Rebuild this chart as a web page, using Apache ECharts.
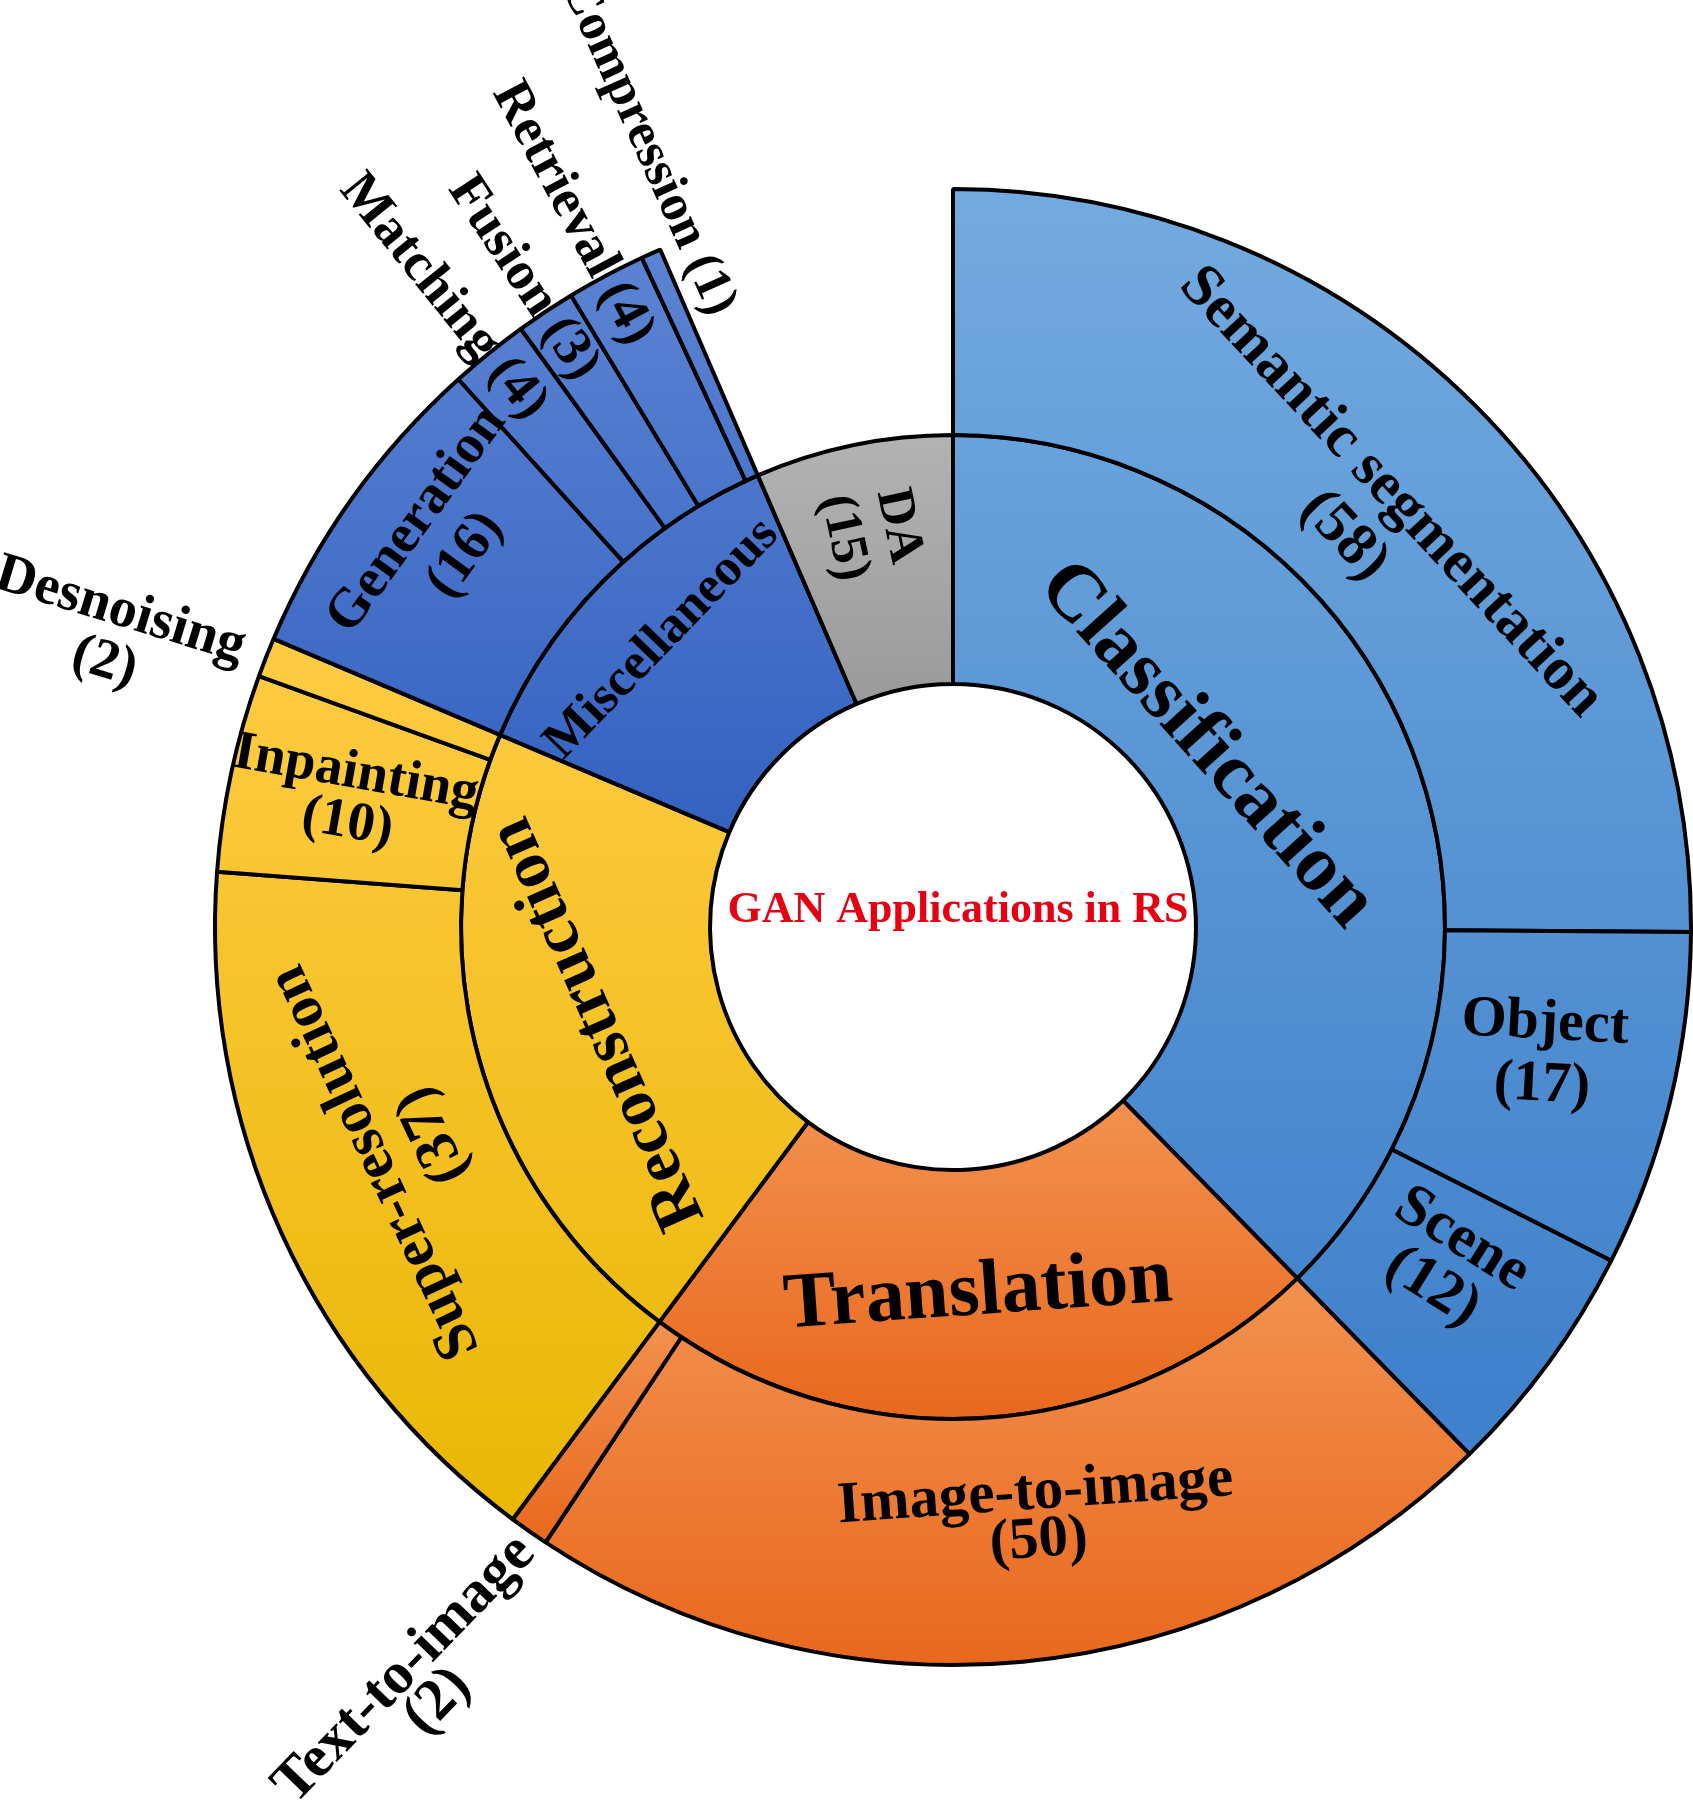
<!DOCTYPE html>
<html lang="en">
<head>
<meta charset="UTF-8">
<title>GAN Applications in RS</title>
<style>
    * { margin: 0; padding: 0; }
    body { background: #fff; }
    #chart { width: 1693px; height: 1808px; }
</style>
</head>
<body>
<div id="chart"></div>
<script src="https://cdn.jsdelivr.net/npm/echarts@6.0.0/dist/echarts.min.js"></script>
<script>
    // data
    var groupNames = ['Classification', 'Translation', 'Reconstruction', 'Miscellaneous', 'DA'];
    var classificationNames = ['Semantic segmentation', 'Object', 'Scene'];
    var classificationValues = [58, 17, 12];
    var translationNames = ['Image-to-image', 'Text-to-image'];
    var translationValues = [50, 2];
    var reconstructionNames = ['Super-resolution', 'Inpainting', 'Desnoising'];
    var reconstructionValues = [37, 10, 2];
    var miscNames = ['Generation', 'Matching', 'Fusion', 'Retrieval', 'Compression'];
    var miscValues = [16, 4, 3, 4, 1];
    var daValue = 15;
    var centerTitle = 'GAN Applications in RS';

    var FONT = '"Liberation Serif", "Times New Roman", serif';

    // gradient per family; "span" = page-wide gradient (pixels), otherwise per shape
    var groupColors = {
        'Classification': { c: ['#73AADF', '#3F81CB'], span: [188, 1400] },
        'Translation': { c: ['#F3914F', '#E8681D'] },
        'Reconstruction': { c: ['#FECB42', '#E8B500'], span: [660, 1600] },
        'Miscellaneous': { c: ['#5C84D3', '#3462C1'], span: [240, 830] },
        'DA': { c: ['#B3B3B3', '#9A9A9A'] }
    };

    // label look per node: font size, rotation, line height, nudge (padding), outside distance
    var labelSetup = {
        'Classification': { size: 80, rotate: -48, padding: [72, 180, 0, 0] },
        'Translation': { size: 79, rotate: 4 },
        'Reconstruction': { size: 68, rotate: 114 },
        'Miscellaneous': { size: 52, rotate: 46, padding: [0, 0, 84, 0] },
        'DA': { size: 52, rotate: -78, lh: 56, padding: [0, 72, 0, 0], wrap: true },
        'Semantic segmentation': { size: 60, rotate: -47, lh: 64, padding: [60, 0, 0, 0], wrap: true },
        'Object': { size: 58, rotate: -3, lh: 62, padding: [0, 16, 34, 0], wrap: true },
        'Scene': { size: 60, rotate: -32, lh: 56, padding: [0, 32, 44, 0], wrap: true },
        'Image-to-image': { size: 59, rotate: 4, lh: 48, padding: [0, 0, 40, 54], wrap: true },
        'Text-to-image': { size: 59, rotate: 46, lh: 46, outside: 12, padding: [56, 0, 0, 0], wrap: true },
        'Super-resolution': { size: 60, rotate: 115, lh: 64, padding: [48, 0, 0, 52], wrap: true },
        'Inpainting': { size: 55, rotate: -10, lh: 50, wrap: true },
        'Desnoising': { size: 56, rotate: -17, lh: 54, outside: 24, padding: [54, 0, 0, 0], wrap: true },
        'Generation': { size: 55, rotate: 54, lh: 60, padding: [0, 0, 56, 40], wrap: true },
        'Matching': { size: 54, outside: -77 },
        'Fusion': { size: 54, outside: -76 },
        'Retrieval': { size: 54, outside: -74 },
        'Compression': { size: 52, outside: -83, padding: [0, 0, 82, 0] }
    };

    function fill(g) {
        var stops = [{ offset: 0, color: g.c[0] }, { offset: 1, color: g.c[1] }];
        if (g.span) {
            return { type: 'linear', x: 0, y: g.span[0], x2: 0, y2: g.span[1], global: true, colorStops: stops };
        }
        return { type: 'linear', x: 0, y: 0, x2: 0, y2: 1, colorStops: stops };
    }

    function makeLabel(name, value) {
        var s = labelSetup[name];
        var text = value == null ? name : name + (s.wrap ? '\n' : ' ') + '(' + value + ')';
        var lines = text.split('\n').map(function (t) { return '{t|' + t + '}'; }).join('\n');
        var label = {
            formatter: lines,
            rotate: s.rotate == null ? 'radial' : s.rotate,
            padding: s.padding || 0,
            rich: {
                t: {
                    fontFamily: FONT,
                    fontWeight: 'bold',
                    fontSize: s.size,
                    lineHeight: s.lh || s.size,
                    color: '#000',
                    align: 'center'
                }
            }
        };
        if (s.outside != null) {
            label.position = 'outside';
            label.distance = s.outside;
        }
        return label;
    }

    function group(name, names, values) {
        return {
            name: name,
            itemStyle: { color: fill(groupColors[name]) },
            label: makeLabel(name),
            children: names.map(function (n, i) {
                return {
                    name: n,
                    value: values[i],
                    itemStyle: { color: fill(groupColors[name]) },
                    label: makeLabel(n, values[i])
                };
            })
        };
    }

    var data = [
        group(groupNames[0], classificationNames, classificationValues),
        group(groupNames[1], translationNames, translationValues),
        group(groupNames[2], reconstructionNames, reconstructionValues),
        group(groupNames[3], miscNames, miscValues),
        {
            name: groupNames[4],
            value: daValue,
            itemStyle: { color: fill(groupColors.DA) },
            label: makeLabel(groupNames[4], daValue)
        }
    ];

    var chart = echarts.init(document.getElementById('chart'));
    chart.setOption({
        animation: false,
        backgroundColor: '#fff',
        title: {
            text: centerTitle,
            left: 953,
            top: 884,
            textAlign: 'center',
            textStyle: {
                fontFamily: FONT,
                fontWeight: 'bold',
                fontSize: 44,
                color: '#E60012'
            }
        },
        series: [{
            type: 'sunburst',
            center: [953, 927],
            radius: [243, 738],
            sort: null,
            nodeClick: false,
            startAngle: 90,
            emphasis: { disabled: true },
            itemStyle: { borderColor: '#000', borderWidth: 4 },
            levels: [
                {},
                { r0: 243, r: 492 },
                { r0: 492, r: 738 }
            ],
            data: data
        }]
    });
</script>
</body>
</html>
